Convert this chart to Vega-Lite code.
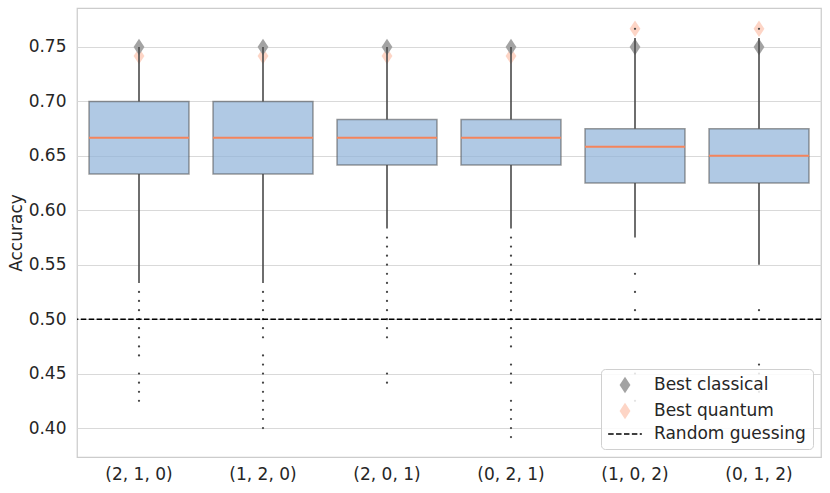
{
  "$schema": "https://vega.github.io/schema/vega-lite/v6.json",
  "width": 744,
  "height": 449,
  "autosize": {"type": "none"},
  "padding": {"left": 77, "top": 8, "right": 9, "bottom": 36},
  "background": "white",
  "config": {
    "view": {"stroke": "#cccccc", "strokeWidth": 1.25},
    "font": "DejaVu Sans",
    "axis": {
      "labelFont": "DejaVu Sans",
      "titleFont": "DejaVu Sans",
      "labelFontSize": 17,
      "titleFontSize": 17,
      "labelColor": "#262626",
      "titleColor": "#262626",
      "titleFontWeight": "normal",
      "ticks": false,
      "domain": false
    },
    "legend": {
      "labelFont": "DejaVu Sans",
      "labelFontSize": 17,
      "labelColor": "#262626",
      "labelLimit": 400
    }
  },
  "datasets": {
    "boxes": [
      {"cat": "(2, 1, 0)", "lo": 0.5333, "q1": 0.6333, "med": 0.6667, "q3": 0.7, "hi": 0.75},
      {"cat": "(1, 2, 0)", "lo": 0.5333, "q1": 0.6333, "med": 0.6667, "q3": 0.7, "hi": 0.75},
      {"cat": "(2, 0, 1)", "lo": 0.5833, "q1": 0.6417, "med": 0.6667, "q3": 0.6833, "hi": 0.75},
      {"cat": "(0, 2, 1)", "lo": 0.5833, "q1": 0.6417, "med": 0.6667, "q3": 0.6833, "hi": 0.75},
      {"cat": "(1, 0, 2)", "lo": 0.575, "q1": 0.625, "med": 0.6583, "q3": 0.675, "hi": 0.7583},
      {"cat": "(0, 1, 2)", "lo": 0.55, "q1": 0.625, "med": 0.65, "q3": 0.675, "hi": 0.7583}
    ],
    "best": [
      {"cat": "(2, 1, 0)", "series": "Best quantum", "value": 0.7417},
      {"cat": "(1, 2, 0)", "series": "Best quantum", "value": 0.7417},
      {"cat": "(2, 0, 1)", "series": "Best quantum", "value": 0.7417},
      {"cat": "(0, 2, 1)", "series": "Best quantum", "value": 0.7417},
      {"cat": "(1, 0, 2)", "series": "Best quantum", "value": 0.7667},
      {"cat": "(0, 1, 2)", "series": "Best quantum", "value": 0.7667},
      {"cat": "(2, 1, 0)", "series": "Best classical", "value": 0.75},
      {"cat": "(1, 2, 0)", "series": "Best classical", "value": 0.75},
      {"cat": "(2, 0, 1)", "series": "Best classical", "value": 0.75},
      {"cat": "(0, 2, 1)", "series": "Best classical", "value": 0.75},
      {"cat": "(1, 0, 2)", "series": "Best classical", "value": 0.75},
      {"cat": "(0, 1, 2)", "series": "Best classical", "value": 0.75}
    ],
    "outliers": [
      {"cat": "(2, 1, 0)", "value": 0.525}, {"cat": "(2, 1, 0)", "value": 0.5167}, {"cat": "(2, 1, 0)", "value": 0.5083},
      {"cat": "(2, 1, 0)", "value": 0.5}, {"cat": "(2, 1, 0)", "value": 0.4917}, {"cat": "(2, 1, 0)", "value": 0.4833},
      {"cat": "(2, 1, 0)", "value": 0.475}, {"cat": "(2, 1, 0)", "value": 0.4667}, {"cat": "(2, 1, 0)", "value": 0.45},
      {"cat": "(2, 1, 0)", "value": 0.4417}, {"cat": "(2, 1, 0)", "value": 0.4333}, {"cat": "(2, 1, 0)", "value": 0.425},
      {"cat": "(1, 2, 0)", "value": 0.525}, {"cat": "(1, 2, 0)", "value": 0.5167}, {"cat": "(1, 2, 0)", "value": 0.5083},
      {"cat": "(1, 2, 0)", "value": 0.5}, {"cat": "(1, 2, 0)", "value": 0.4917}, {"cat": "(1, 2, 0)", "value": 0.4833},
      {"cat": "(1, 2, 0)", "value": 0.4667}, {"cat": "(1, 2, 0)", "value": 0.4583}, {"cat": "(1, 2, 0)", "value": 0.45},
      {"cat": "(1, 2, 0)", "value": 0.4417}, {"cat": "(1, 2, 0)", "value": 0.4333}, {"cat": "(1, 2, 0)", "value": 0.425},
      {"cat": "(1, 2, 0)", "value": 0.4167}, {"cat": "(1, 2, 0)", "value": 0.4083}, {"cat": "(1, 2, 0)", "value": 0.4},
      {"cat": "(2, 0, 1)", "value": 0.575}, {"cat": "(2, 0, 1)", "value": 0.5667}, {"cat": "(2, 0, 1)", "value": 0.5583},
      {"cat": "(2, 0, 1)", "value": 0.55}, {"cat": "(2, 0, 1)", "value": 0.5417}, {"cat": "(2, 0, 1)", "value": 0.5333},
      {"cat": "(2, 0, 1)", "value": 0.525}, {"cat": "(2, 0, 1)", "value": 0.5167}, {"cat": "(2, 0, 1)", "value": 0.5083},
      {"cat": "(2, 0, 1)", "value": 0.5}, {"cat": "(2, 0, 1)", "value": 0.4917}, {"cat": "(2, 0, 1)", "value": 0.4833},
      {"cat": "(2, 0, 1)", "value": 0.45}, {"cat": "(2, 0, 1)", "value": 0.4417},
      {"cat": "(0, 2, 1)", "value": 0.575}, {"cat": "(0, 2, 1)", "value": 0.5667}, {"cat": "(0, 2, 1)", "value": 0.5583},
      {"cat": "(0, 2, 1)", "value": 0.55}, {"cat": "(0, 2, 1)", "value": 0.5417}, {"cat": "(0, 2, 1)", "value": 0.5333},
      {"cat": "(0, 2, 1)", "value": 0.525}, {"cat": "(0, 2, 1)", "value": 0.5167}, {"cat": "(0, 2, 1)", "value": 0.5083},
      {"cat": "(0, 2, 1)", "value": 0.5}, {"cat": "(0, 2, 1)", "value": 0.4917}, {"cat": "(0, 2, 1)", "value": 0.4833},
      {"cat": "(0, 2, 1)", "value": 0.475}, {"cat": "(0, 2, 1)", "value": 0.4583}, {"cat": "(0, 2, 1)", "value": 0.45},
      {"cat": "(0, 2, 1)", "value": 0.4417}, {"cat": "(0, 2, 1)", "value": 0.425}, {"cat": "(0, 2, 1)", "value": 0.4167},
      {"cat": "(0, 2, 1)", "value": 0.4083}, {"cat": "(0, 2, 1)", "value": 0.4}, {"cat": "(0, 2, 1)", "value": 0.3917},
      {"cat": "(1, 0, 2)", "value": 0.7667}, {"cat": "(1, 0, 2)", "value": 0.5417}, {"cat": "(1, 0, 2)", "value": 0.525},
      {"cat": "(1, 0, 2)", "value": 0.5083}, {"cat": "(1, 0, 2)", "value": 0.45}, {"cat": "(1, 0, 2)", "value": 0.425},
      {"cat": "(0, 1, 2)", "value": 0.7667}, {"cat": "(0, 1, 2)", "value": 0.5083}, {"cat": "(0, 1, 2)", "value": 0.4583},
      {"cat": "(0, 1, 2)", "value": 0.45}, {"cat": "(0, 1, 2)", "value": 0.4333}
    ],
    "guess": [{"label": "Random guessing", "value": 0.5}]
  },
  "layer": [
    {
      "data": {"name": "boxes"},
      "mark": {
        "type": "bar",
        "fill": "#8eb2d8",
        "fillOpacity": 0.7,
        "stroke": "#4d4d4d",
        "strokeOpacity": 0.55,
        "strokeWidth": 1.5,
        "width": {"band": 0.806}
      },
      "encoding": {
        "x": {
          "field": "cat",
          "type": "nominal",
          "sort": ["(2, 1, 0)", "(1, 2, 0)", "(2, 0, 1)", "(0, 2, 1)", "(1, 0, 2)", "(0, 1, 2)"],
          "scale": {"type": "band", "paddingInner": 0, "paddingOuter": 0},
          "axis": {"title": null, "labelAngle": 0, "labelPadding": 9, "grid": false}
        },
        "y": {
          "field": "q1",
          "type": "quantitative",
          "title": "Accuracy",
          "scale": {"domain": [0.3734, 0.7858], "nice": false, "zero": false},
          "axis": {
            "values": [0.4, 0.45, 0.5, 0.55, 0.6, 0.65, 0.7, 0.75],
            "format": ".2f",
            "grid": true,
            "gridColor": "#d9d9d9",
            "gridWidth": 1,
            "labelPadding": 11,
            "titlePadding": 3
          }
        },
        "y2": {"field": "q3"}
      }
    },
    {
      "data": {"name": "best"},
      "mark": {"type": "point", "filled": true, "size": 270, "opacity": 1, "shape": "M0,-1L0.66,0L0,1L-0.66,0Z"},
      "encoding": {
        "x": {"field": "cat", "type": "nominal", "sort": ["(2, 1, 0)", "(1, 2, 0)", "(2, 0, 1)", "(0, 2, 1)", "(1, 0, 2)", "(0, 1, 2)"]},
        "y": {"field": "value", "type": "quantitative", "title": "Accuracy"},
        "color": {
          "field": "series",
          "type": "nominal",
          "scale": {"domain": ["Best classical", "Best quantum", "Random guessing"], "range": ["#a3a3a3", "#fdd5c6", "#000000"]},
          "legend": {
            "title": null,
            "orient": "bottom-right",
            "offset": 8,
            "padding": 7,
            "rowPadding": 2,
            "symbolOffset": 8,
            "labelOffset": 20,
            "symbolSize": 270,
            "symbolOpacity": 1,
            "symbolStrokeWidth": 1.5,
            "symbolType": {"expr": "datum.value === 'Random guessing' ? 'M-2.05,0L2.05,0' : 'M0,-1L0.66,0L0,1L-0.66,0Z'"},
            "symbolStrokeColor": {"expr": "datum.value === 'Random guessing' ? '#000000' : 'transparent'"},
            "symbolDash": {"expr": "datum.value === 'Random guessing' ? [5.5, 2.4] : [1, 0]"},
            "strokeColor": "#d0d0d0",
            "fillColor": "rgba(255,255,255,0.85)",
            "cornerRadius": 4
          }
        }
      }
    },
    {
      "data": {"name": "boxes"},
      "mark": {"type": "rule", "color": "#4a4a4a", "strokeWidth": 1.6},
      "encoding": {
        "x": {"field": "cat", "type": "nominal", "sort": ["(2, 1, 0)", "(1, 2, 0)", "(2, 0, 1)", "(0, 2, 1)", "(1, 0, 2)", "(0, 1, 2)"]},
        "y": {"field": "lo", "type": "quantitative", "title": "Accuracy"},
        "y2": {"field": "q1"}
      }
    },
    {
      "data": {"name": "boxes"},
      "mark": {"type": "rule", "color": "#4a4a4a", "strokeWidth": 1.6},
      "encoding": {
        "x": {"field": "cat", "type": "nominal", "sort": ["(2, 1, 0)", "(1, 2, 0)", "(2, 0, 1)", "(0, 2, 1)", "(1, 0, 2)", "(0, 1, 2)"]},
        "y": {"field": "q3", "type": "quantitative", "title": "Accuracy"},
        "y2": {"field": "hi"}
      }
    },
    {
      "data": {"name": "boxes"},
      "mark": {"type": "tick", "color": "#f4845c", "size": 100, "thickness": 2, "opacity": 1},
      "encoding": {
        "x": {"field": "cat", "type": "nominal", "sort": ["(2, 1, 0)", "(1, 2, 0)", "(2, 0, 1)", "(0, 2, 1)", "(1, 0, 2)", "(0, 1, 2)"]},
        "y": {"field": "med", "type": "quantitative", "title": "Accuracy"}
      }
    },
    {
      "data": {"name": "outliers"},
      "mark": {"type": "circle", "color": "#444444", "size": 5, "opacity": 1},
      "encoding": {
        "x": {"field": "cat", "type": "nominal", "sort": ["(2, 1, 0)", "(1, 2, 0)", "(2, 0, 1)", "(0, 2, 1)", "(1, 0, 2)", "(0, 1, 2)"]},
        "y": {"field": "value", "type": "quantitative", "title": "Accuracy"}
      }
    },
    {
      "data": {"name": "guess"},
      "mark": {"type": "rule", "color": "#000000", "strokeWidth": 1.5, "strokeDash": [5.5, 2.4]},
      "encoding": {
        "y": {"field": "value", "type": "quantitative", "title": "Accuracy"}
      }
    }
  ]
}
